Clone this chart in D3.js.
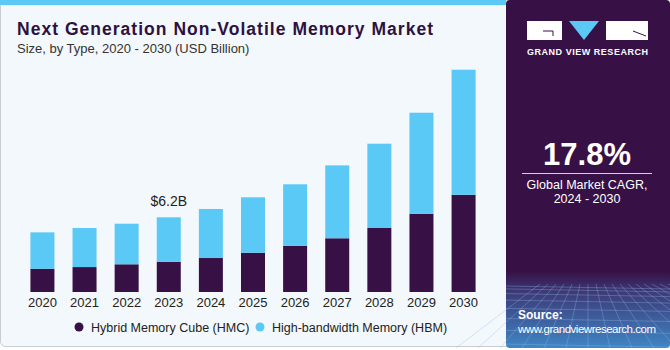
<!DOCTYPE html>
<html>
<head>
<meta charset="utf-8">
<script src="https://cdn.jsdelivr.net/npm/d3@7"></script>
<style>
  body { margin: 0; background: #fff; }
  svg { display: block; font-family: "Liberation Sans", Arial, sans-serif; }
</style>
</head>
<body>
<div id="chart"></div>
<script>
// data (USD Billion)
var years = ['2020', '2021', '2022', '2023', '2024', '2025', '2026', '2027', '2028', '2029', '2030'];
var hmc = [1.93, 2.07, 2.30, 2.51, 2.82, 3.26, 3.82, 4.46, 5.34, 6.50, 8.07];
var hbm = [3.02, 3.24, 3.37, 3.69, 4.07, 4.60, 5.12, 6.05, 6.97, 8.38, 10.38];
var seriesNames = ['Hybrid Memory Cube (HMC)', 'High-bandwidth Memory (HBM)'];
var colors = ['#371146', '#5bc9f5'];
var callout = { year: '2023', text: '$6.2B' };

var W = 670, H = 350;
var svg = d3.select('#chart').append('svg')
    .attr('width', W)
    .attr('height', H);

var defs = svg.append('defs');
var grad = defs.append('linearGradient')
    .attr('id', 'side')
    .attr('x1', 0).attr('y1', 0).attr('x2', 0).attr('y2', 1);
grad.append('stop').attr('offset', '0%').attr('stop-color', '#371146');
grad.append('stop').attr('offset', '78%').attr('stop-color', '#371146');
grad.append('stop').attr('offset', '84%').attr('stop-color', '#3d3a78');
grad.append('stop').attr('offset', '100%').attr('stop-color', '#3f86c6');

// left panel
svg.append('rect')
    .attr('x', 0.5).attr('y', 0.5)
    .attr('width', 520).attr('height', 346)
    .attr('rx', 5)
    .attr('fill', '#f3f8fc')
    .attr('stroke', '#c9ccd0');
svg.append('rect')
    .attr('x', 0).attr('y', 0)
    .attr('width', 506).attr('height', 5)
    .attr('fill', '#5bc9f5');

// right panel
svg.append('rect')
    .attr('x', 506).attr('y', 0)
    .attr('width', 164).attr('height', 348)
    .attr('rx', 4)
    .attr('fill', 'url(#side)');

// faint grid in the bottom of the side panel
var grid = svg.append('g').attr('stroke', '#8fb6e0').attr('stroke-opacity', 0.35).attr('fill', 'none');
d3.range(0, 9).forEach(function (i) {
    var y = 286 + i * i * 0.9 + i * 2;
    grid.append('line').attr('x1', 506).attr('x2', 670).attr('y1', y).attr('y2', y + 3);
});
d3.range(-6, 14).forEach(function (i) {
    var x = 588 + i * 8;
    grid.append('line').attr('x1', x).attr('y1', 284).attr('x2', 588 + i * 22).attr('y2', 348);
});

// title
svg.append('text')
    .attr('x', 17).attr('y', 35)
    .attr('font-size', 17.5).attr('font-weight', 'bold')
    .attr('fill', '#2d1140')
    .attr('textLength', 416)
    .text('Next Generation Non-Volatile Memory Market');
svg.append('text')
    .attr('x', 17).attr('y', 53)
    .attr('font-size', 13)
    .attr('fill', '#333')
    .text('Size, by Type, 2020 - 2030 (USD Billion)');

// scales
var x = d3.scaleBand()
    .domain(years)
    .range([22, 484])
    .paddingInner(0.43)
    .paddingOuter(0.2);

var y = d3.scaleLinear()
    .domain([0, 6.2])
    .range([292, 217.3]);

var stackData = years.map(function (yr, i) {
    return { year: yr, hmc: hmc[i], hbm: hbm[i] };
});
var stack = d3.stack().keys(['hmc', 'hbm'])(stackData);

svg.append('g')
    .selectAll('g')
    .data(stack)
    .enter()
    .append('g')
        .attr('fill', function (d, i) { return colors[i]; })
    .selectAll('rect')
    .data(function (d) { return d; })
    .enter()
    .append('rect')
        .attr('x', function (d) { return x(d.data.year); })
        .attr('y', function (d) { return y(d[1]); })
        .attr('width', x.bandwidth())
        .attr('height', function (d) { return y(d[0]) - y(d[1]); });

// x axis
var xAxis = svg.append('g')
    .attr('transform', 'translate(0,292)')
    .call(d3.axisBottom(x).tickSize(0).tickPadding(6));
xAxis.select('.domain').remove();
xAxis.selectAll('text')
    .attr('font-size', 13)
    .attr('font-family', '"Liberation Sans", Arial, sans-serif')
    .attr('fill', '#222');

// callout
var ci = years.indexOf(callout.year);
svg.append('text')
    .attr('x', x(callout.year) + x.bandwidth() / 2)
    .attr('y', y(hmc[ci] + hbm[ci]) - 11)
    .attr('text-anchor', 'middle')
    .attr('font-size', 14)
    .attr('fill', '#222')
    .text(callout.text);

// legend
var legendX = [79, 260];
var legend = svg.append('g')
    .selectAll('g')
    .data(seriesNames)
    .enter()
    .append('g')
        .attr('transform', function (d, i) { return 'translate(' + legendX[i] + ',327)'; });
legend.append('circle')
    .attr('r', 4.5)
    .attr('fill', function (d, i) { return colors[i]; });
legend.append('text')
    .attr('x', 12).attr('y', 4.5)
    .attr('font-size', 12.5)
    .attr('fill', '#222')
    .text(function (d) { return d; });

// logo
var logo = svg.append('g');
logo.append('rect').attr('x', 527).attr('y', 21).attr('width', 35).attr('height', 19).attr('fill', '#ffffff');
logo.append('path').attr('d', 'M543,31 h10 v5').attr('stroke', '#371146').attr('stroke-width', 1).attr('fill', 'none');
logo.append('path').attr('d', 'M569,21 L599,21 L584,40 Z').attr('fill', '#5bc9f5');
logo.append('rect').attr('x', 606).attr('y', 21).attr('width', 42).attr('height', 19).attr('fill', '#ffffff');
logo.append('path').attr('d', 'M633,31 L646,36').attr('stroke', '#371146').attr('stroke-width', 1);
svg.append('text')
    .attr('x', 527).attr('y', 55)
    .attr('font-size', 9).attr('font-weight', 'bold')
    .attr('fill', '#fff')
    .attr('textLength', 121)
    .text('GRAND VIEW RESEARCH');

// CAGR block
svg.append('text')
    .attr('x', 587).attr('y', 165)
    .attr('text-anchor', 'middle')
    .attr('font-size', 31).attr('font-weight', 'bold')
    .attr('fill', '#fff')
    .text('17.8%');
svg.append('line')
    .attr('x1', 522).attr('x2', 652)
    .attr('y1', 173.5).attr('y2', 173.5)
    .attr('stroke', '#d8cfe0').attr('stroke-width', 1);
svg.append('text')
    .attr('x', 587).attr('y', 189)
    .attr('text-anchor', 'middle')
    .attr('font-size', 12.5)
    .attr('fill', '#fff')
    .text('Global Market CAGR,');
svg.append('text')
    .attr('x', 587).attr('y', 203)
    .attr('text-anchor', 'middle')
    .attr('font-size', 12.5)
    .attr('fill', '#fff')
    .text('2024 - 2030');

// source
svg.append('text')
    .attr('x', 518).attr('y', 319)
    .attr('font-size', 12).attr('font-weight', 'bold')
    .attr('fill', '#fff')
    .text('Source:');
svg.append('text')
    .attr('x', 518).attr('y', 333)
    .attr('font-size', 11.5)
    .attr('fill', '#fff')
    .attr('textLength', 138)
    .text('www.grandviewresearch.com');
</script>
</body>
</html>
